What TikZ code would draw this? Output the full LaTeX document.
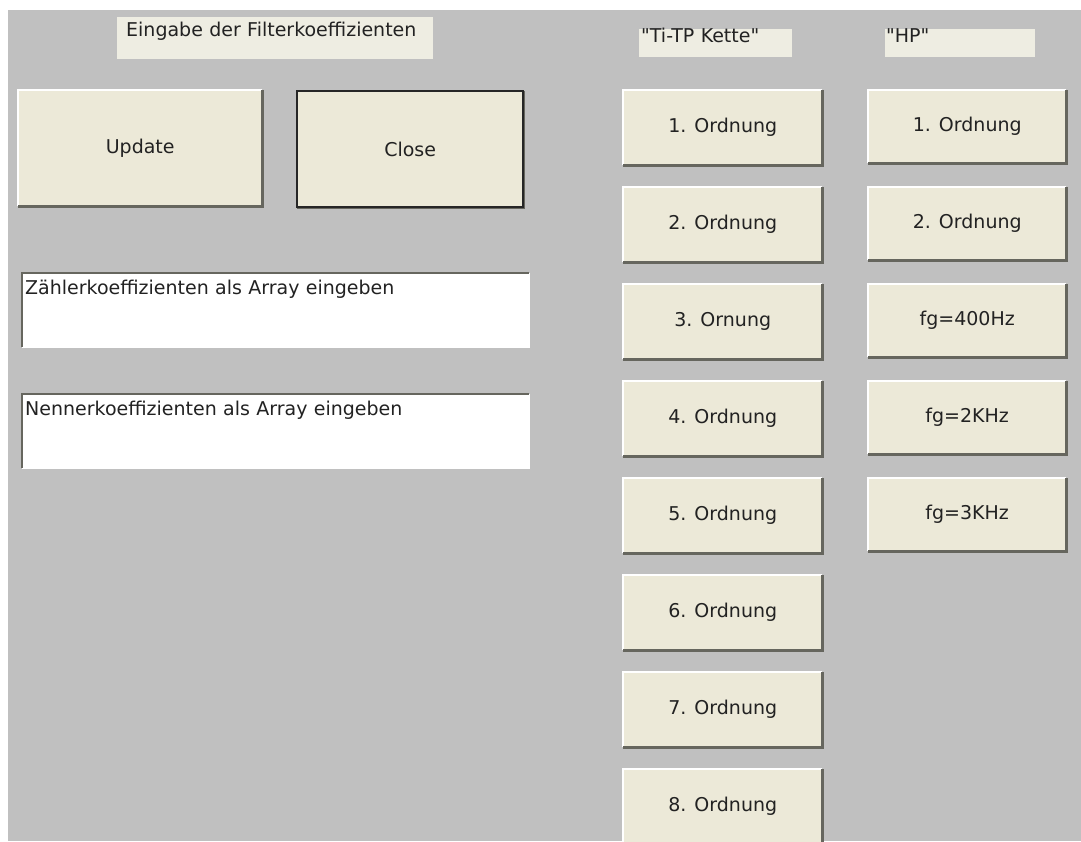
\documentclass[tikz,border=0pt]{standalone}
\usepackage{fontspec}
\setmainfont{DejaVu Sans}
\usepackage{xcolor}

\definecolor{wingray}{HTML}{C0C0C0}
\definecolor{winface}{HTML}{ECE9D8}
\definecolor{winlabel}{HTML}{EEEDE2}
\definecolor{winshadow}{HTML}{66665E}
\definecolor{wintext}{HTML}{222222}

\tikzset{
  btn/.style={fill=winface, anchor=north west, inner sep=0pt, text=wintext,
    font=\fontsize{19}{22}\selectfont},
  statlabel/.style={fill=winlabel, anchor=north west, inner ysep=0pt,
    align=left, text=wintext, font=\fontsize{19}{22}\selectfont},
  editbox/.style={fill=white, anchor=north west, inner ysep=0pt,
    align=left, text=wintext, font=\fontsize{19}{22}\selectfont}
}

% raised and sunken edges of the dialog controls
\newcommand{\raised}[1]{%
  \draw[white, line width=2pt] (#1.south west) -- (#1.north west) -- (#1.north east);
  \draw[winshadow, line width=2.5pt] (#1.north east) -- (#1.south east) -- (#1.south west);
}
\newcommand{\sunken}[1]{%
  \draw[white, line width=2pt] (#1.north east) -- (#1.south east) -- (#1.south west);
  \draw[winshadow, line width=2.5pt] (#1.south west) -- (#1.north west) -- (#1.north east);
}

\begin{document}
\begin{tikzpicture}[x=1pt,y=-1pt]
      \useasboundingbox (0,0) rectangle (1081,841);
      \clip (0,0) rectangle (1081,841);
      \fill[white] (0,0) rectangle (1081,841);
      \fill[wingray] (8,10) rectangle (1081,841);

      % static texts
      \node[statlabel, inner xsep=9pt, text width=298pt, text height=19pt, text depth=23pt] (title) at (117,17) {Eingabe der Filterkoeffizienten};
      \node[statlabel, inner xsep=2pt, text width=149pt, text height=13pt, text depth=15pt] (tplabel) at (639,29) {\textquotedbl Ti-TP Kette\textquotedbl};
      \node[statlabel, inner xsep=1pt, text width=148pt, text height=13pt, text depth=15pt] (hplabel) at (885,29) {\textquotedbl HP\textquotedbl};

      % Update and Close
      \node[btn, minimum width=244pt, minimum height=116pt] (update) at (18,90) {Update};
      \raised{update}
      \node[btn, minimum width=226pt, minimum height=116pt] (close) at (297,91) {Close};
      \raised{close}
      \draw[black!85, line width=2pt] (close.south west) rectangle (close.north east);

      % input fields
      \node[editbox, inner xsep=3pt, text width=501pt, text height=21pt, text depth=53pt] (zaehler) at (22,273) {Zählerkoeffizienten als Array eingeben};
      \sunken{zaehler}
      \node[editbox, inner xsep=3pt, text width=501pt, text height=21pt, text depth=53pt] (nenner) at (22,394) {Nennerkoeffizienten als Array eingeben};
      \sunken{nenner}

      % Ti-TP chain
      \foreach \lbl [count=\i from 0] in {1. Ordnung, 2. Ordnung, 3. Ornung, 4. Ordnung, 5. Ordnung, 6. Ordnung, 7. Ordnung, 8. Ordnung} {
        \node[btn, minimum width=199pt, minimum height=75pt] (tp\i) at (623,90+97*\i) {\lbl};
        \raised{tp\i}
      }

      % high pass
      \foreach \lbl [count=\i from 0] in {1. Ordnung, 2. Ordnung, fg=400Hz, fg=2KHz, fg=3KHz} {
        \node[btn, minimum width=198pt, minimum height=73pt] (hp\i) at (868,90+97*\i) {\lbl};
        \raised{hp\i}
      }
    \end{tikzpicture}
\end{document}
